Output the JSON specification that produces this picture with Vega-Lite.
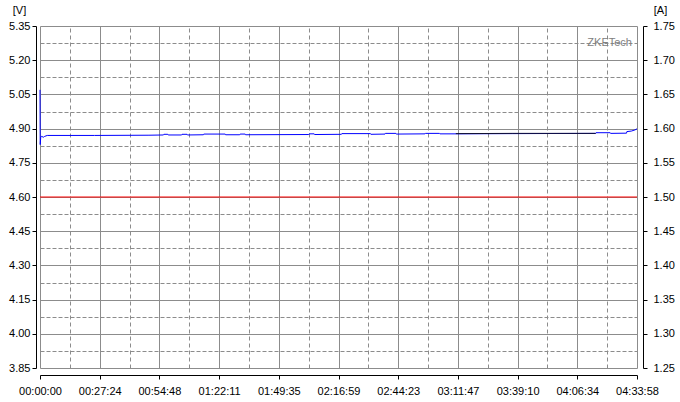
{
  "$schema": "https://vega.github.io/schema/vega-lite/v6.json",
  "width": 597,
  "height": 342,
  "autosize": "none",
  "padding": {"left": 40, "top": 26, "right": 43, "bottom": 34},
  "background": "#ffffff",
  "config": {
    "view": {"stroke": null},
    "axis": {
      "labelFont": "Liberation Sans",
      "labelFontSize": 11,
      "labelColor": "#000000",
      "titleFont": "Liberation Sans",
      "titleFontSize": 11,
      "titleFontWeight": "normal",
      "titleColor": "#000000",
      "domainColor": "#000000",
      "tickColor": "#000000",
      "gridColor": "#8c8c8c",
      "gridOpacity": 1,
      "gridWidth": 1
    }
  },
  "datasets": {
    "volt": [
      {"t": 0, "v": 5.07},
      {"t": 6, "v": 4.83},
      {"t": 20, "v": 4.862},
      {"t": 50, "v": 4.866},
      {"t": 90, "v": 4.862},
      {"t": 130, "v": 4.866},
      {"t": 200, "v": 4.870},
      {"t": 1500, "v": 4.870},
      {"t": 3000, "v": 4.871},
      {"t": 3400, "v": 4.872},
      {"t": 3410, "v": 4.875},
      {"t": 3520, "v": 4.875},
      {"t": 3530, "v": 4.872},
      {"t": 3900, "v": 4.872},
      {"t": 3910, "v": 4.875},
      {"t": 4050, "v": 4.875},
      {"t": 4060, "v": 4.872},
      {"t": 4500, "v": 4.873},
      {"t": 4510, "v": 4.876},
      {"t": 5100, "v": 4.876},
      {"t": 5110, "v": 4.873},
      {"t": 5500, "v": 4.873},
      {"t": 5510, "v": 4.876},
      {"t": 5650, "v": 4.876},
      {"t": 5660, "v": 4.873},
      {"t": 7400, "v": 4.874},
      {"t": 7410, "v": 4.877},
      {"t": 7550, "v": 4.877},
      {"t": 7560, "v": 4.874},
      {"t": 8300, "v": 4.875},
      {"t": 8310, "v": 4.878},
      {"t": 9100, "v": 4.878},
      {"t": 9110, "v": 4.875},
      {"t": 9500, "v": 4.876},
      {"t": 9510, "v": 4.879},
      {"t": 9800, "v": 4.879},
      {"t": 9810, "v": 4.876},
      {"t": 10600, "v": 4.877},
      {"t": 10610, "v": 4.879},
      {"t": 11000, "v": 4.879},
      {"t": 11010, "v": 4.877},
      {"t": 11400, "v": 4.877},
      {"t": 13000, "v": 4.878},
      {"t": 15300, "v": 4.879},
      {"t": 15310, "v": 4.882},
      {"t": 15700, "v": 4.882},
      {"t": 15710, "v": 4.879},
      {"t": 16150, "v": 4.880},
      {"t": 16160, "v": 4.887},
      {"t": 16280, "v": 4.889},
      {"t": 16380, "v": 4.894},
      {"t": 16438, "v": 4.899}
    ],
    "dark": [
      {"t": 11450, "d": 4.878},
      {"t": 13000, "d": 4.879},
      {"t": 15300, "d": 4.879}
    ],
    "curr": [
      {"t": 0, "a": 1.50},
      {"t": 16438, "a": 1.50}
    ],
    "brand": [
      {"t": 16300, "v": 5.275, "label": "ZKETech"}
    ]
  },
  "layer": [
    {
      "data": {"name": "volt"},
      "mark": {"type": "line", "color": "#0000ff", "strokeWidth": 1},
      "encoding": {
        "x": {
          "field": "t", "type": "quantitative",
          "scale": {"domain": [0, 16438], "nice": false, "zero": false},
          "axis": {
            "orient": "top", "title": null, "labels": false, "ticks": false, "domain": false,
            "grid": true, "gridDash": [4, 3],
            "values": [821.9, 2465.7, 4109.5, 5753.3, 7397.1, 9040.9, 10684.7, 12328.5, 13972.3, 15616.1]
          }
        },
        "y": {
          "field": "v", "type": "quantitative",
          "scale": {"domain": [3.85, 5.35], "nice": false, "zero": false},
          "axis": {
            "orient": "left", "title": null, "labels": false, "ticks": false, "domain": false,
            "grid": true, "gridDash": [4, 2],
            "values": [3.925, 4.075, 4.225, 4.375, 4.525, 4.675, 4.825, 4.975, 5.125, 5.275]
          }
        }
      }
    },
    {
      "data": {"name": "dark"},
      "mark": {"type": "line", "color": "#101030", "strokeWidth": 1},
      "encoding": {
        "x": {
          "field": "t", "type": "quantitative",
          "scale": {"domain": [0, 16438], "nice": false, "zero": false},
          "axis": {
            "orient": "bottom", "title": null, "offset": 7, "tickSize": 4, "labelPadding": 6,
            "grid": true, "labelFlush": false, "labelOverlap": false,
            "values": [0, 1643.8, 3287.6, 4931.4, 6575.2, 8219, 9862.8, 11506.6, 13150.4, 14794.2, 16438],
            "labelExpr": "utcFormat(round(datum.value) * 1000, '%H:%M:%S')"
          }
        },
        "y": {
          "field": "d", "type": "quantitative",
          "scale": {"domain": [3.85, 5.35], "nice": false, "zero": false},
          "axis": {
            "orient": "left", "offset": 4, "tickSize": 4, "labelPadding": 2,
            "grid": true, "format": ".2f", "labelFlush": false, "labelOverlap": false,
            "values": [3.85, 4.0, 4.15, 4.3, 4.45, 4.6, 4.75, 4.9, 5.05, 5.2, 5.35],
            "title": "[V]", "titleAngle": 0, "titleAlign": "center", "titleBaseline": "middle",
            "titleX": -17, "titleY": -16
          }
        }
      }
    },
    {
      "data": {"name": "curr"},
      "mark": {"type": "line", "color": "#ff0000", "strokeWidth": 1},
      "encoding": {
        "x": {"field": "t", "type": "quantitative", "scale": {"domain": [0, 16438], "nice": false, "zero": false}, "axis": null},
        "y": {
          "field": "a", "type": "quantitative",
          "scale": {"domain": [1.25, 1.75], "nice": false, "zero": false},
          "axis": {
            "orient": "right", "offset": 6, "tickSize": 4, "labelPadding": 6,
            "grid": false, "format": ".2f", "labelFlush": false, "labelOverlap": false,
            "values": [1.25, 1.3, 1.35, 1.4, 1.45, 1.5, 1.55, 1.6, 1.65, 1.7, 1.75],
            "title": "[A]", "titleAngle": 0, "titleAlign": "center", "titleBaseline": "middle",
            "titleX": 17, "titleY": -16
          }
        }
      }
    },
    {
      "data": {"name": "brand"},
      "mark": {"type": "text", "align": "right", "baseline": "middle", "font": "Liberation Sans", "fontSize": 11, "color": "#808080"},
      "encoding": {
        "x": {"field": "t", "type": "quantitative", "scale": {"domain": [0, 16438], "nice": false, "zero": false}, "axis": null},
        "y": {"field": "v", "type": "quantitative", "scale": {"domain": [3.85, 5.35], "nice": false, "zero": false}, "axis": null},
        "text": {"field": "label"}
      }
    }
  ],
  "resolve": {
    "scale": {"y": "independent"},
    "axis": {"x": "independent", "y": "independent"}
  }
}
